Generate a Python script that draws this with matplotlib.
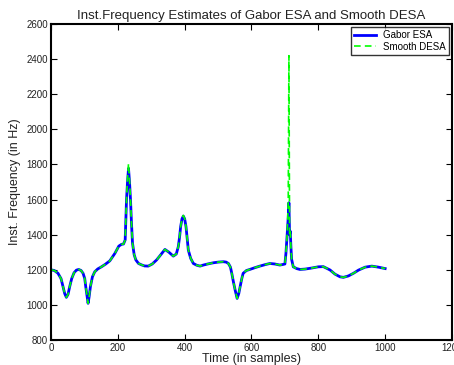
import numpy as np
from matplotlib import pyplot as plt

plt.rcParams['font.family'] = ['Liberation Sans', 'DejaVu Sans']

# sample positions and estimated frequencies (Hz)
samples = [0, 10, 21, 30, 36, 41, 46, 51, 56, 62, 69, 76, 83, 90, 96, 101, 104, 108, 111, 114,
           118, 124, 131, 140, 151, 163, 176, 191, 203, 211, 217, 222, 226, 229, 232, 235, 238,
           241, 244, 249, 254, 262, 271, 280, 291, 303, 316, 329, 341, 353, 366, 375, 381, 385,
           388, 392, 396, 400, 404, 408, 411, 418, 426, 436, 446, 456, 471, 486, 501, 516, 524,
           531, 537, 541, 546, 551, 557, 562, 566, 571, 575, 585, 595, 610, 625, 640, 655, 670,
           685, 693, 700, 703, 707, 710, 712, 714, 716, 718, 720, 725, 735, 745, 760, 780, 800,
           815, 835, 850, 865, 875, 890, 905, 920, 940, 960, 980, 1000]
gabor = [1200, 1196, 1180, 1150, 1104, 1065, 1043, 1060, 1104, 1150, 1183, 1198, 1202, 1196, 1180,
         1150, 1104, 1050, 1009, 1045, 1104, 1160, 1189, 1205, 1217, 1232, 1251, 1293, 1335, 1345,
         1347, 1370, 1598, 1700, 1777, 1700, 1598, 1460, 1351, 1285, 1256, 1236, 1228, 1222, 1221,
         1233, 1256, 1287, 1316, 1300, 1278, 1290, 1332, 1390, 1446, 1490, 1506, 1490, 1446, 1370,
         1312, 1265, 1236, 1226, 1221, 1227, 1234, 1240, 1244, 1246, 1244, 1236, 1215, 1180, 1130,
         1085, 1037, 1065, 1104, 1150, 1180, 1196, 1202, 1212, 1221, 1229, 1236, 1233, 1227, 1230,
         1233, 1293, 1408, 1500, 1582, 1400, 1420, 1330, 1260, 1217, 1207, 1202, 1204, 1210, 1217,
         1218, 1199, 1175, 1160, 1157, 1165, 1180, 1198, 1215, 1221, 1215, 1207]
desa = [1200, 1196, 1180, 1150, 1104, 1065, 1043, 1060, 1104, 1150, 1183, 1198, 1202, 1196, 1180,
        1150, 1104, 1050, 1009, 1045, 1104, 1160, 1189, 1205, 1217, 1232, 1251, 1293, 1335, 1345,
        1347, 1370, 1600, 1720, 1806, 1710, 1600, 1460, 1351, 1285, 1256, 1236, 1228, 1222, 1221,
        1233, 1256, 1287, 1316, 1300, 1278, 1290, 1332, 1390, 1446, 1492, 1510, 1492, 1446, 1370,
        1312, 1265, 1236, 1226, 1221, 1227, 1234, 1240, 1244, 1246, 1244, 1236, 1215, 1180, 1130,
        1085, 1037, 1065, 1104, 1150, 1180, 1196, 1202, 1212, 1221, 1229, 1236, 1233, 1227, 1230,
        1233, 1293, 1408, 1600, 2420, 1400, 1420, 1330, 1260, 1217, 1207, 1202, 1204, 1210, 1217,
        1218, 1199, 1175, 1160, 1157, 1165, 1180, 1198, 1215, 1221, 1215, 1207]

fig = plt.figure(figsize=(4.54, 3.65), dpi=100)
ax = fig.add_axes([0.1123, 0.0685, 0.8833, 0.8655])

ax.plot(samples, gabor, color='#0000ff', lw=2, label='Gabor ESA')
ax.plot(samples, desa, color='#00ff00', lw=1.2, ls=(0, (4, 2.5)), label='Smooth DESA')

ax.set_xlim(0, 1200)
ax.set_ylim(800, 2600)
ax.set_xticks(np.arange(0, 1201, 200))
ax.set_yticks(np.arange(800, 2601, 200))
ax.tick_params(direction='in', top=True, right=True, labelsize=7, length=4, width=0.8, pad=2,
               labelcolor='#222222')
for s in ax.spines.values():
    s.set_linewidth(1.5)

ax.set_title('Inst.Frequency Estimates of Gabor ESA and Smooth DESA', fontsize=9.5, pad=4,
             color='#222222')
ax.set_xlabel('Time (in samples)', fontsize=9, labelpad=0, color='#222222')
ax.set_ylabel('Inst. Frequency (in Hz)', fontsize=9, labelpad=4, color='#222222')

leg = ax.legend(loc='upper right', fontsize=7, fancybox=False, edgecolor='black',
                handlelength=2.2, borderpad=0.3, labelspacing=0.2, borderaxespad=0.3)
leg.get_frame().set_linewidth(1)

fig.savefig('out.png', dpi=100)
